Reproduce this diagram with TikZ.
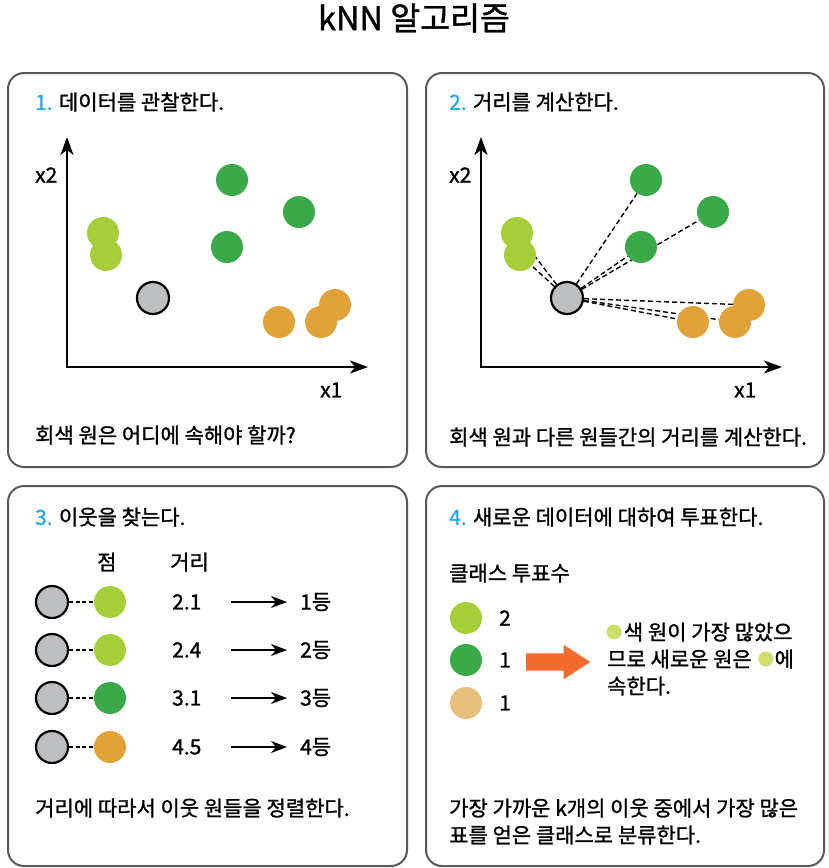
\documentclass[tikz,border=0pt]{standalone}
\usepackage{fontspec}
\setmainfont{Noto Sans CJK KR}[FakeBold=1.2]
\usetikzlibrary{arrows.meta,positioning,shapes.arrows,backgrounds}

\definecolor{knncyan}{HTML}{27AAE1}
\definecolor{knnlime}{HTML}{A6CE39}
\definecolor{knngreen}{HTML}{39A949}
\definecolor{knnorange}{HTML}{E1A23A}
\definecolor{knntan}{HTML}{E8C07E}
\definecolor{knngray}{HTML}{BCBEC0}
\definecolor{knnframe}{HTML}{58595B}
\definecolor{knnvote}{HTML}{F26A2C}
\definecolor{knndot}{HTML}{D0DC6C}

\tikzset{
    panel/.style={draw=knnframe, line width=2pt, rounded corners=16pt},
    ball/.style={circle, fill=#1, minimum size=32pt, inner sep=0pt},
    query/.style={circle, fill=knngray, draw=black, line width=2.2pt, minimum size=32pt, inner sep=0pt},
    vdot/.style={circle, fill=knndot, minimum size=15pt, inner sep=0pt},
    txt/.style={anchor=west, inner sep=0pt, font=\fontsize{21}{26}\selectfont},
    axis/.style={line width=2pt, {Stealth[length=18pt, width=13pt, inset=5pt]}-{Stealth[length=18pt, width=13pt, inset=5pt]}},
    rank/.style={line width=1.6pt, -{Stealth[length=16pt, width=12pt, inset=5pt]}},
    dist/.style={line width=1.4pt, dash pattern=on 5pt off 3pt},
}
\newcommand{\knnnum}[1]{{\color{knncyan}#1}}

\begin{document}
\begin{tikzpicture}[x=1pt, y=-1pt]
    \useasboundingbox (0,0) rectangle (828,868);
    \node[font=\fontsize{32.5}{38}\selectfont, inner sep=0pt] (title) at (414,18) {kNN 알고리즘};

    % the four panels
    \draw[panel] (8,73) rectangle (407,467);
    \draw[panel] (426,73) rectangle (824,467);
    \draw[panel] (8,486) rectangle (407,866);
    \draw[panel] (426,486) rectangle (824,866);

    % panels 1 and 2: the same scatter
    \foreach \k/\dx in {1/0, 2/414} {
        \begin{scope}[xshift=\dx pt]
            \coordinate (o\k) at (67,367);
            \coordinate (y\k) at (67,137);
            \coordinate (x\k) at (368,367);
            \draw[axis] (y\k) -- (o\k) -- (x\k);
            \node[txt] (lx2-\k) at (35,175) {x2};
            \node[txt] (lx1-\k) at (320,390) {x1};
            \node[ball=knnlime] (p\k-l1) at (103,233) {};
            \node[ball=knnlime] (p\k-l2) at (106,255) {};
            \node[ball=knngreen] (p\k-g1) at (232,180) {};
            \node[ball=knngreen] (p\k-g2) at (299,212) {};
            \node[ball=knngreen] (p\k-g3) at (227,247) {};
            \node[ball=knnorange] (p\k-o1) at (279,322) {};
            \node[ball=knnorange] (p\k-o2) at (335,305) {};
            \node[ball=knnorange] (p\k-o3) at (321,322) {};
            \node[query] (q\k) at (153,298) {};
        \end{scope}
    }
    \begin{scope}[on background layer]
        \foreach \n in {l1,l2,g1,g2,g3,o1,o2,o3}
            \draw[dist] (q2) -- (p2-\n);
    \end{scope}

    \node[txt] (h1) at (35,102) {\knnnum{1.} 데이터를 관찰한다.};
    \node[txt] (b1) at (35,435) {회색 원은 어디에 속해야 할까?};
    \node[txt] (h2) at (449,102) {\knnnum{2.} 거리를 계산한다.};
    \node[txt] (b2) at (449,437) {회색 원과 다른 원들간의 거리를 계산한다.};

    % panel 3
    \node[txt] (h3) at (35,517) {\knnnum{3.} 이웃을 찾는다.};
    \node[txt] (hpoint) at (97,562) {점};
    \node[txt] (hdist) at (170,562) {거리};
    \foreach \y/\c/\d/\r [count=\i] in {602/knnlime/2.1/1, 650/knnlime/2.4/2, 698/knngreen/3.1/3, 747/knnorange/4.5/4} {
        \node[query] (n\i) at (52,\y) {};
        \node[ball=\c] (m\i) at (110,\y) {};
        \draw[dist, line width=1.5pt, dash pattern=on 4pt off 2.5pt] (n\i) -- (m\i);
        \node[txt] (d\i) at (172,\y) {\d};
        \node[txt] (r\i) at (300,\y) {\r 등};
        \coordinate (a\i) at (231,\y);
        \draw[rank, shorten >=13pt] (a\i) -- (r\i.west |- a\i);
    }
    \node[txt] (b3) at (35,808) {거리에 따라서 이웃 원들을 정렬한다.};

    % panel 4
    \node[txt] (h4) at (449,517) {\knnnum{4.} 새로운 데이터에 대하여 투표한다.};
    \node[txt] (hclass) at (449,573) {클래스 투표수};
    \node[ball=knnlime] (c1) at (466,618) {};
    \node[ball=knngreen] (c2) at (466,660) {};
    \node[ball=knntan] (c3) at (466,703) {};
    \node[txt] (v1) at (499,618) {2};
    \node[txt] (v2) at (499,660) {1};
    \node[txt] (v3) at (499,703) {1};
    \node[single arrow, fill=knnvote, minimum height=64pt, minimum width=34pt,
          single arrow head extend=8.5pt, single arrow tip angle=66,
          inner xsep=0pt, inner ysep=8.5pt, anchor=west] (vote) at (526,662) {};
    \node[vdot] (dd1) at (614,632) {};
    \node[txt, right=2pt of dd1] (t1) {색 원이 가장 많았으};
    \node[txt] (t2) at (607,659) {므로 새로운 원은};
    \node[vdot, right=6pt of t2] (dd2) {};
    \node[txt, right=1pt of dd2] (t3) {에};
    \node[txt] (t4) at (607,686) {속한다.};
    \node[txt] (b4) at (449,808) {가장 가까운 k개의 이웃 중에서 가장 많은};
    \node[txt] (b5) at (449,835) {표를 얻은 클래스로 분류한다.};
\end{tikzpicture}
\end{document}
